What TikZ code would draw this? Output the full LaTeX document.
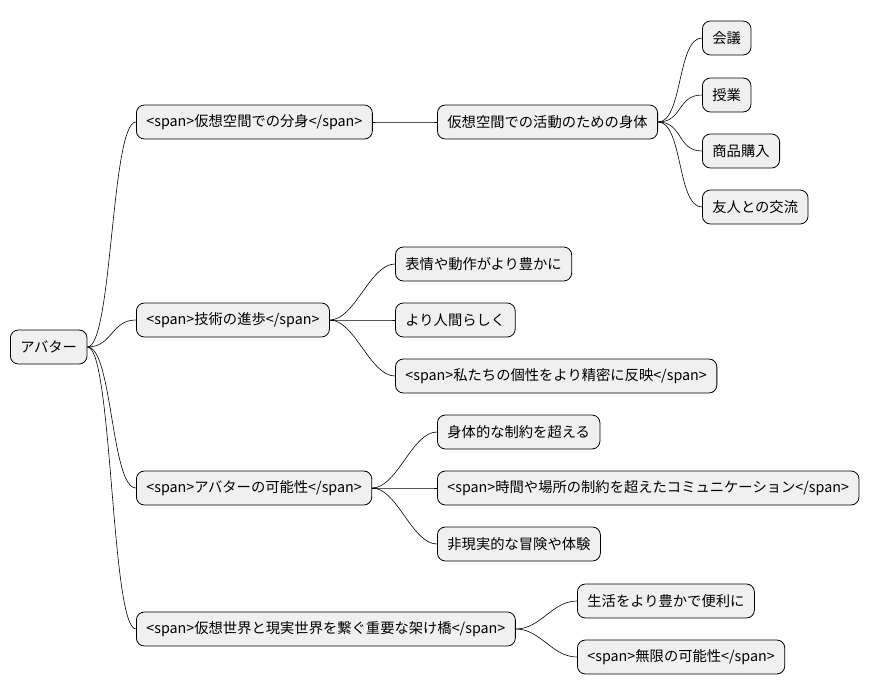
\documentclass[tikz,border=0pt]{standalone}
\usepackage{fontspec}
\setmainfont{Noto Sans CJK JP}

\tikzset{
  topic/.style={draw=black, line width=0.8pt, fill=gray!12, rounded corners=8pt,
    anchor=west, minimum height=34pt, inner xsep=10pt, font=\fontsize{14.3}{16}\selectfont},
  branch/.style={draw=black, line width=0.6pt}
}
\newcommand{\branchto}[2]{\draw[branch] (#1.east) .. controls +(25,0) and +(-25,0) .. (#2.west);}

\begin{document}
\begin{tikzpicture}[x=1pt,y=-1pt]
            \useasboundingbox (0,0) rectangle (880,696);
            \node[topic] (avatar) at (10,347) {アバター};

            \node[topic] (bunshin) at (136,122) {<span>仮想空間での分身</span>};
            \node[topic] (shintai) at (437,122) {仮想空間での活動のための身体};
            \node[topic] (kaigi) at (702,38) {会議};
            \node[topic] (jugyo) at (702,95) {授業};
            \node[topic] (konyu) at (702,151) {商品購入};
            \node[topic] (koryu) at (702,207) {友人との交流};

            \node[topic] (shinpo) at (136,320) {<span>技術の進歩</span>};
            \node[topic] (hyojo) at (395,264) {表情や動作がより豊かに};
            \node[topic] (ningen) at (395,320) {より人間らしく};
            \node[topic] (kosei) at (395,376) {<span>私たちの個性をより精密に反映</span>};

            \node[topic] (kanosei) at (136,488) {<span>アバターの可能性</span>};
            \node[topic] (seiyaku) at (437,432) {身体的な制約を超える};
            \node[topic] (comm) at (437,488) {<span>時間や場所の制約を超えたコミュニケーション</span>};
            \node[topic] (boken) at (437,544) {非現実的な冒険や体験};

            \node[topic] (kakehashi) at (136,629) {<span>仮想世界と現実世界を繋ぐ重要な架け橋</span>};
            \node[topic] (seikatsu) at (577,601) {生活をより豊かで便利に};
            \node[topic] (mugen) at (577,657) {<span>無限の可能性</span>};

            \foreach \c in {bunshin,shinpo,kanosei,kakehashi} {\branchto{avatar}{\c}}
            \branchto{bunshin}{shintai}
            \foreach \c in {kaigi,jugyo,konyu,koryu} {\branchto{shintai}{\c}}
            \foreach \c in {hyojo,ningen,kosei} {\branchto{shinpo}{\c}}
            \foreach \c in {seiyaku,comm,boken} {\branchto{kanosei}{\c}}
            \foreach \c in {seikatsu,mugen} {\branchto{kakehashi}{\c}}
\end{tikzpicture}
\end{document}
